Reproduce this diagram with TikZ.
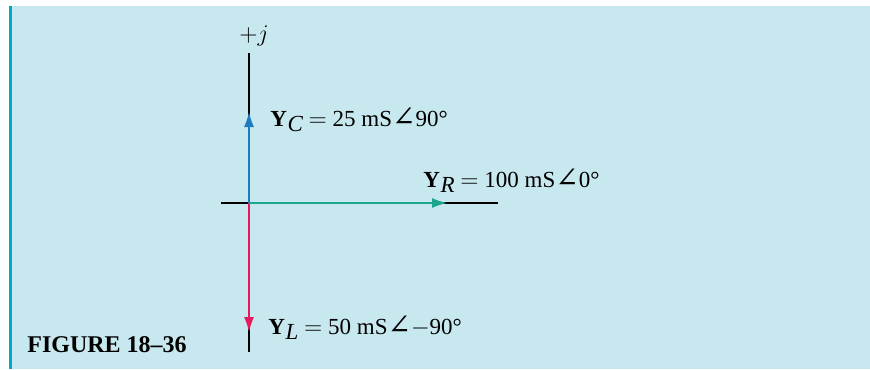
\documentclass[tikz,border=0pt]{standalone}
\usepackage{fontspec}
\setmainfont{Liberation Serif}
\newfontfamily\symfont{DejaVu Serif}
\usetikzlibrary{arrows.meta}

\definecolor{panelbg}{HTML}{C8E8EF}
\definecolor{panelbar}{HTML}{00A8C6}
\definecolor{capblue}{HTML}{1B7CC0}
\definecolor{indred}{HTML}{E8185C}
\definecolor{resgreen}{HTML}{1CA68E}

\newcommand{\adm}[3]{\textbf{Y}\kern.3pt\raisebox{-.5ex}{\itshape #1}\ $=$\ #2 mS{\symfont\fontsize{14}{14}\selectfont ∠}#3°}

\tikzset{
  axis/.style={black, line width=0.6pt},
  phasor/.style={line width=0.7pt, -{Latex[length=7.5pt,width=5pt]}},
  lbl/.style={inner sep=0pt, anchor=base west, font=\fontsize{11.5}{13}\selectfont}
}

\begin{document}
\begin{tikzpicture}[x=0.5pt, y=-0.5pt]
			\useasboundingbox (0,0) rectangle (870,369);
			% panel
			\fill[panelbg] (12,6) rectangle (870,369);
			\fill[panelbar] (9,6) rectangle (12,369);
			%
			\coordinate (o) at (249,203);
			\coordinate (top) at (249,53);
			\coordinate (bot) at (249,352);
			\coordinate (left) at (221,203);
			\coordinate (right) at (498,203);
			%
			\coordinate (c) at (249,112);
			\coordinate (l) at (249,332);
			\coordinate (r) at (447,203);
			% axes
			\draw[axis] (top) -- (bot);
			\draw[axis] (left) -- (right);
			% phasors
			\draw[phasor, capblue] (o) -- (c);
			\draw[phasor, indred] (o) -- (l);
			\draw[phasor, resgreen] (o) -- (r);
			% labels
			\node[inner sep=0pt, font=\fontsize{11.5}{13}\selectfont] (j) at (254,36) {$+j$};
			\node[lbl] (yc) at (270,126) {\adm{C}{25}{90}};
			\node[lbl] (yr) at (423,187) {\adm{R}{100}{0}};
			\node[lbl] (yl) at (268,334) {\adm{L}{50}{$-$90}};
			\node[inner sep=0pt, anchor=base west, font=\fontsize{12}{14}\selectfont\bfseries] (fig) at (27,352) {FIGURE 18–36};
\end{tikzpicture}
\end{document}
